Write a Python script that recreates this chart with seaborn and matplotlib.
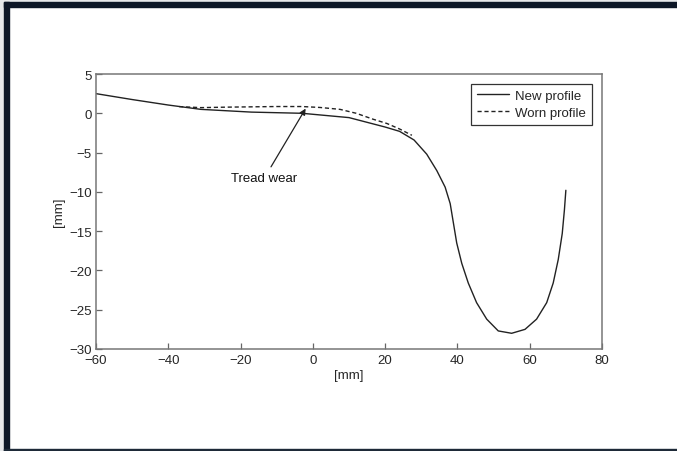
import numpy as np
import pandas as pd
import matplotlib
matplotlib.use('Agg')
import matplotlib.pyplot as plt
import seaborn as sns
from matplotlib.patches import Rectangle

# profile values
new_x = [-60, -50, -40, -31, -17, -3, 10, 20, 24, 28, 31.5, 34.3, 36.6, 38, 38.9,
         39.8, 41.2, 43, 45.3, 48.1, 51.3, 55, 58.7, 61.9, 64.7, 66.5, 67.9, 69,
         69.6, 70]
new_y = [2.5, 1.75, 1.05, 0.5, 0.15, 0.0, -0.55, -1.75, -2.3, -3.4, -5.2, -7.3,
         -9.4, -11.5, -14.0, -16.5, -19.1, -21.6, -24.1, -26.2, -27.7, -28.0,
         -27.5, -26.2, -24.1, -21.6, -18.6, -15.3, -12.3, -9.8]

worn_x = [-37, -31, -24, -17, -10, -3, 2, 7.5, 12, 16.7, 20.5, 24, 27.4]
worn_y = [0.85, 0.72, 0.78, 0.82, 0.86, 0.86, 0.74, 0.5, 0.0, -0.76, -1.3, -2.0, -2.8]

x_ticks = [-60, -40, -20, 0, 20, 40, 60, 80]
y_ticks = [5, 0, -5, -10, -15, -20, -25, -30]

sns.set_style('ticks')
plt.rcParams['font.family'] = ['Liberation Sans', 'DejaVu Sans']
plt.rcParams['axes.unicode_minus'] = True

fig = plt.figure(figsize=(6.77, 4.52), dpi=100, facecolor='white')
W, H = 677, 452

# frame around the picture
fig.patches.append(Rectangle((0, 0), 4 / W, 1, transform=fig.transFigure,
                             color='#e6e8ea', zorder=0))
fig.patches.append(Rectangle((0, 1 - 3 / H), 1, 3 / H, transform=fig.transFigure,
                             color='#e6e8ea', zorder=0))
fig.patches.append(Rectangle((4 / W, 0), 5 / W, 1 - 3 / H, transform=fig.transFigure,
                             color='#0d1727', zorder=0))
fig.patches.append(Rectangle((4 / W, 1 - 8 / H), 1, 5 / H, transform=fig.transFigure,
                             color='#0d1727', zorder=0))
fig.patches.append(Rectangle((4 / W, 0), 1, 2 / H, transform=fig.transFigure,
                             color='#1e2a38', zorder=0))

ax = fig.add_axes([96 / W, 1 - 350 / H, (602 - 96) / W, (350 - 75) / H])

new_df = pd.DataFrame({'x': new_x, 'y': new_y})
worn_df = pd.DataFrame({'x': worn_x, 'y': worn_y})

sns.lineplot(data=new_df, x='x', y='y', ax=ax, color='#222222', lw=1.0,
             label='New profile')
sns.lineplot(data=worn_df, x='x', y='y', ax=ax, color='#222222', lw=1.0,
             linestyle=(0, (3, 2)), label='Worn profile')

ax.annotate('Tread wear', xy=(-2, 0.6), xytext=(-13.5, -8.3),
            ha='center', va='center', fontsize=9.5, color='#111111',
            arrowprops=dict(arrowstyle='-|>', color='#222222', lw=0.9,
                            mutation_scale=9, shrinkA=2, shrinkB=0))

ax.set_xlim(-60, 80)
ax.set_ylim(-30, 5)
ax.set_xticks(x_ticks)
ax.set_yticks(y_ticks)
ax.set_xlabel('[mm]', fontsize=9.5, labelpad=2)
ax.set_ylabel('[mm]', fontsize=9.5, labelpad=3)
ax.tick_params(direction='in', length=4.5, width=0.9, color='#666666',
               labelsize=9.5, top=False, right=False)
ax.tick_params(axis='x', pad=3.5)
ax.tick_params(axis='y', pad=3)

for sp in ax.spines.values():
    sp.set_visible(True)
    sp.set_color('#777777')
    sp.set_linewidth(1.1)

leg = ax.legend(loc='upper right', frameon=True, fancybox=False, fontsize=9.5,
                handlelength=2.4, borderaxespad=0.75, labelspacing=0.35,
                borderpad=0.45, handletextpad=0.5)
leg.get_frame().set_edgecolor('#333333')
leg.get_frame().set_linewidth(0.9)
leg.get_frame().set_alpha(1)

fig.savefig('out.png', dpi=100, facecolor=fig.get_facecolor())
